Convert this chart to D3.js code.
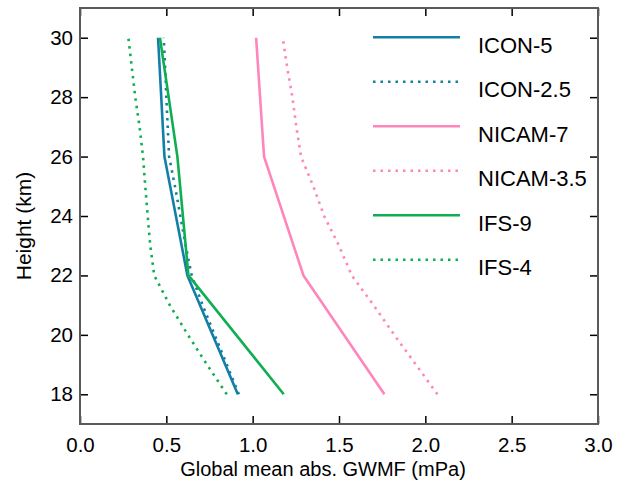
<!DOCTYPE html>
<html>
<head>
<meta charset="utf-8">
<script src="https://cdn.jsdelivr.net/npm/d3@7"></script>
<style>
  html, body { margin: 0; padding: 0; background: #fff; }
  svg { display: block; font-family: "Liberation Sans", Arial, Helvetica, sans-serif; }
</style>
</head>
<body>
<svg id="chart" width="623" height="480"></svg>
<script>
// ---- data ----
const heightsCoarse = [18, 22, 26, 30];
const heightsFine = [18, 19, 20, 21, 22, 23, 24, 25, 26, 27, 28, 29, 30];

const icon5 = [0.914, 0.622, 0.489, 0.452];
const icon25 = [0.92, 0.85, 0.78, 0.71, 0.647, 0.612, 0.581, 0.55, 0.516, 0.508, 0.50, 0.493, 0.485];
const nicam7 = [1.763, 1.294, 1.066, 1.02];
const nicam35 = [2.07, 1.945, 1.82, 1.70, 1.574, 1.50, 1.414, 1.351, 1.28, 1.253, 1.23, 1.20, 1.174];
const ifs9 = [1.18, 0.628, 0.564, 0.463];
const ifs4 = [0.85, 0.735, 0.625, 0.52, 0.43, 0.407, 0.392, 0.378, 0.365, 0.345, 0.32, 0.30, 0.28];

const seriesNames = ["ICON-5", "ICON-2.5", "NICAM-7", "NICAM-3.5", "IFS-9", "IFS-4"];
const seriesColors = ["#147fa6", "#147fa6", "#ff85bd", "#ff85bd", "#0fae50", "#0fae50"];
const seriesDotted = [false, true, false, true, false, true];
const seriesValues = [icon5, icon25, nicam7, nicam35, ifs9, ifs4];
const seriesHeights = [heightsCoarse, heightsFine, heightsCoarse, heightsFine, heightsCoarse, heightsFine];

const xTicks = [0, 0.5, 1.0, 1.5, 2.0, 2.5, 3.0];
const yTicks = [18, 20, 22, 24, 26, 28, 30];

// ---- layout ----
const L = 80, R = 598, T = 8, B = 424;
const svg = d3.select("#chart");
const x = d3.scaleLinear().domain([0, 3]).range([L, R]);
const y = d3.scaleLinear().domain([17, 31]).range([B, T]);

const dash = "2.5,5";

// series lines
const line = d3.line().x(d => x(d[0])).y(d => y(d[1]));
seriesValues.forEach((vals, i) => {
  const pts = vals.map((v, j) => [v, seriesHeights[i][j]]);
  svg.append("path")
    .attr("d", line(pts))
    .attr("fill", "none")
    .attr("stroke", seriesColors[i])
    .attr("stroke-width", 2.6)
    .attr("stroke-dasharray", seriesDotted[i] ? dash : null)
    .attr("stroke-linejoin", "round");
});

// axes
function styleAxis(g, labels) {
  g.select(".domain").remove();
  g.selectAll(".tick line").attr("stroke", "#000").attr("stroke-width", 1.5);
  g.selectAll(".tick text").attr("fill", "#000").style("font-size", "20.5px");
  if (!labels) g.selectAll(".tick text").remove();
}
svg.append("g").attr("transform", `translate(0,${B})`)
  .call(d3.axisBottom(x).tickValues(xTicks).tickFormat(d3.format(".1f")).tickSizeInner(-8).tickSizeOuter(0).tickPadding(13))
  .call(g => styleAxis(g, true));
svg.append("g").attr("transform", `translate(0,${T})`)
  .call(d3.axisTop(x).tickValues(xTicks).tickSizeInner(-8).tickSizeOuter(0))
  .call(g => styleAxis(g, false));
svg.append("g").attr("transform", `translate(${L},0)`)
  .call(d3.axisLeft(y).tickValues(yTicks).tickFormat(d3.format("d")).tickSizeInner(-8).tickSizeOuter(0).tickPadding(7))
  .call(g => styleAxis(g, true));
svg.append("g").attr("transform", `translate(${R},0)`)
  .call(d3.axisRight(y).tickValues(yTicks).tickSizeInner(-8).tickSizeOuter(0))
  .call(g => styleAxis(g, false));

// frame
svg.append("rect")
  .attr("x", L).attr("y", T).attr("width", R - L).attr("height", B - T)
  .attr("fill", "none").attr("stroke", "#5a5a5a").attr("stroke-width", 2);

// axis titles
svg.append("text")
  .attr("x", 323).attr("y", 476)
  .attr("text-anchor", "middle")
  .style("font-size", "20px")
  .text("Global mean abs. GWMF (mPa)");
svg.append("text")
  .attr("transform", "translate(31,226) rotate(-90)")
  .attr("text-anchor", "middle")
  .style("font-size", "21px")
  .text("Height (km)");

// legend
const lg = svg.append("g");
seriesNames.forEach((name, i) => {
  const ly = 37.3 + i * 44.5;
  lg.append("line")
    .attr("x1", 373).attr("x2", 460).attr("y1", ly).attr("y2", ly)
    .attr("stroke", seriesColors[i]).attr("stroke-width", 2.6)
    .attr("stroke-dasharray", seriesDotted[i] ? dash : null);
  lg.append("text")
    .attr("x", 478).attr("y", ly + 15.5)
    .style("font-size", "22px")
    .text(name);
});
</script>
</body>
</html>
